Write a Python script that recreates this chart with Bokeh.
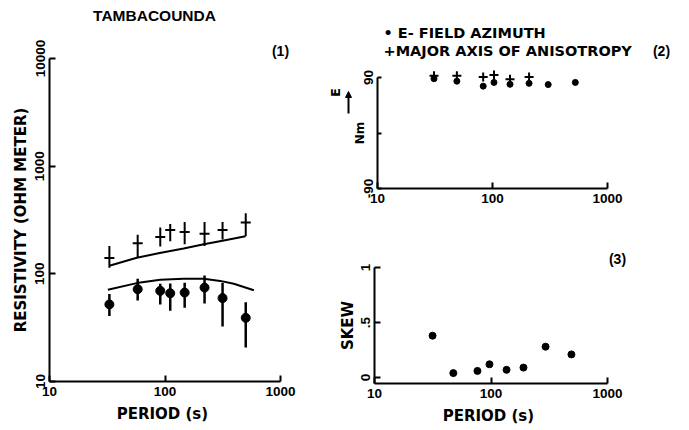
import math

from bokeh.plotting import figure
from bokeh.layouts import row, column
from bokeh.models import (FixedTicker, Label, Arrow, NormalHead, Range1d,
                          PrintfTickFormatter)
from bokeh.embed import file_html
from bokeh.resources import INLINE

# ---- (1) apparent resistivity, ohm-m, against period (s) ----
rho_period = [33, 58, 91, 111, 148, 220, 315, 500]
rho_major = [140, 192, 220, 256, 244, 236, 256, 299]
rho_major_hi = [181, 231, 270, 290, 303, 303, 303, 365]
rho_major_lo = [114, 143, 179, 201, 188, 181, 208, 223]
rho_minor = [52, 72, 69.5, 66, 67, 74.5, 59.5, 39]
rho_minor_hi = [65, 90, 81, 81.5, 82.5, 96.5, 82.5, 54.5]
rho_minor_lo = [40.5, 56.5, 52, 45.5, 48.5, 53, 32.5, 20.7]

model_major_period = [33, 57, 90, 145, 217, 323, 498]
model_major_rho = [119, 141, 156, 172, 188, 204, 223]
model_minor_period = [32, 57, 91, 145, 217, 300, 394, 588]
model_minor_rho = [71, 82, 88, 90, 90, 86, 81, 70.5]

# ---- (2) azimuths, degrees ----
azimuth_period = [31, 49, 83, 103, 142, 208, 305, 525]
e_field_azimuth = [88, 84, 76, 82, 79, 80.5, 78.5, 82]
anisotropy_period = [31, 49, 83, 103, 142, 208]
anisotropy_axis = [93, 93, 91, 94, 87, 91]

# ---- (3) skew ----
skew_period = [31.5, 47.5, 76.5, 97, 136, 190, 294, 490]
skew = [0.38, 0.04, 0.06, 0.12, 0.07, 0.09, 0.28, 0.21]

period_ticks = [10, 100, 1000]
rho_ticks = [10, 100, 1000, 10000]
azimuth_ticks = [-90, 0, 90]
skew_ticks = [0, 0.5, 1]

NUM_FONT = "Liberation Sans"
TXT_FONT = "DejaVu Sans"
INK = "black"


def pixel_map(log, v0, p0, v1, p1):
    """Map a canvas pixel position to a data value, given two anchors."""
    f = math.log10 if log else (lambda v: v)
    g = (lambda u: 10 ** u) if log else (lambda u: u)
    slope = (f(v1) - f(v0)) / (p1 - p0)
    return lambda p: g(f(v0) + (p - p0) * slope)


def style_axis(ax):
    ax.axis_line_width = 2
    ax.axis_line_color = INK
    ax.major_tick_line_width = 2
    ax.major_tick_line_color = INK
    ax.major_tick_in = 6
    ax.major_tick_out = 0
    ax.minor_tick_line_color = None
    ax.major_label_text_font = NUM_FONT
    ax.major_label_text_font_style = "bold"
    ax.major_label_text_font_size = "13.5px"
    ax.major_label_text_color = INK
    ax.major_label_standoff = 5
    ax.axis_label_text_font = TXT_FONT
    ax.axis_label_text_font_style = "bold"
    ax.axis_label_text_font_size = "15px"
    ax.axis_label_text_color = INK
    ax.axis_label_standoff = 6


class Panel:
    """A figure whose frame fills the whole canvas; the axes sit inside it."""

    def __init__(self, width, height, x_log, x_anchor, y_log, y_anchor):
        # anchors: (value, pixel) pairs; y pixels are measured from the top
        (xv0, xp0), (xv1, xp1) = x_anchor
        (yv0, yp0), (yv1, yp1) = y_anchor
        self.H = height
        self.mx = pixel_map(x_log, xv0, xp0, xv1, xp1)
        self.my = pixel_map(y_log, yv0, height - yp0, yv1, height - yp1)
        self.p = figure(
            x_axis_type="log" if x_log else "linear",
            y_axis_type="log" if y_log else "linear",
            x_range=Range1d(self.mx(0), self.mx(width)),
            y_range=Range1d(self.my(0), self.my(height)),
            frame_width=width, frame_height=height, min_border=0,
            output_backend="svg", toolbar_location=None)
        p = self.p
        p.grid.visible = False
        p.outline_line_color = None
        p.background_fill_color = "white"
        p.border_fill_color = "white"
        for ax in (p.xaxis[0], p.yaxis[0]):
            style_axis(ax)

    def xy(self, px, py):
        return self.mx(px), self.my(self.H - py)

    def text(self, px, py, s, size="14px", font=TXT_FONT, align="center",
             angle=0.0):
        x, y = self.xy(px, py)
        self.p.add_layout(Label(x=x, y=y, text=s, text_font=font,
                                text_font_style="bold", text_font_size=size,
                                text_color=INK, text_align=align,
                                text_baseline="middle", angle=angle))


# ================= panel (1) =================
P1 = Panel(300, 430, True, ((10, 49), (1000, 280)),
           True, ((10, 381), (10000, 58)))
p1 = P1.p
p1.xaxis.fixed_location = 10
p1.xaxis.bounds = (10, 1000)
p1.yaxis.fixed_location = 10
p1.yaxis.bounds = (10, 10000)
p1.xaxis.ticker = FixedTicker(ticks=period_ticks)
p1.xaxis.formatter = PrintfTickFormatter(format="%d")
p1.yaxis.ticker = FixedTicker(ticks=rho_ticks)
p1.yaxis.formatter = PrintfTickFormatter(format="%d")
p1.yaxis.major_label_orientation = "vertical"
p1.yaxis.axis_label_standoff = 3
p1.xaxis.axis_label = "PERIOD  (s)"
p1.yaxis.axis_label = "RESISTIVITY (OHM METER)"

p1.line(model_major_period, model_major_rho, line_color=INK, line_width=2)
p1.line(model_minor_period, model_minor_rho, line_color=INK, line_width=2)
p1.segment(x0=rho_period, y0=rho_major_lo, x1=rho_period, y1=rho_major_hi,
           line_color=INK, line_width=2)
p1.segment(x0=rho_period, y0=rho_minor_lo, x1=rho_period, y1=rho_minor_hi,
           line_color=INK, line_width=2.5)
p1.scatter(rho_period, rho_major, marker="dash", size=10, line_width=2,
           line_color=INK)
p1.scatter(rho_period, rho_minor, marker="circle", size=9, fill_color=INK,
           line_color=INK)

P1.text(154, 15, "TAMBACOUNDA", size="15.5px", font=NUM_FONT)
P1.text(280, 50, "(1)", size="14px", font=NUM_FONT)

# ================= panel (2) =================
P2 = Panel(389, 220, True, ((10, 77), (1000, 307)),
           False, ((-90, 188), (90, 77)))
p2 = P2.p
p2.xaxis.fixed_location = -90
p2.xaxis.bounds = (10, 1000)
p2.yaxis.fixed_location = 10
p2.yaxis.bounds = (-90, 90)
p2.xaxis.ticker = FixedTicker(ticks=period_ticks)
p2.xaxis.formatter = PrintfTickFormatter(format="%d")
p2.yaxis.ticker = FixedTicker(ticks=azimuth_ticks)
p2.yaxis.major_label_overrides = {-90: "-90", 0: "", 90: "90"}
p2.yaxis.major_label_orientation = "vertical"
p2.yaxis.major_tick_in = 4
p2.yaxis.axis_label = "Nm"
p2.yaxis.axis_label_text_font_size = "12px"
p2.yaxis.axis_label_standoff = -6

p2.scatter(anisotropy_period, anisotropy_axis, marker="cross", size=9,
           line_width=2, line_color=INK)
p2.scatter(azimuth_period, e_field_azimuth, marker="circle", size=6,
           fill_color=INK, line_color=INK)

P2.text(83, 32, "\u2022 E- FIELD  AZIMUTH", size="14.5px", align="left")
P2.text(83, 50, "+MAJOR AXIS OF ANISOTROPY", size="14.5px", align="left")
P2.text(361, 50, "(2)", font=NUM_FONT)
P2.text(35, 92, "E", size="13px", angle=math.pi / 2)
ax0, ay0 = P2.xy(48, 113)
ax1, ay1 = P2.xy(48, 91)
p2.add_layout(Arrow(end=NormalHead(size=6, fill_color=INK, line_color=INK),
                    x_start=ax0, y_start=ay0, x_end=ax1, y_end=ay1,
                    line_color=INK, line_width=2))

# ================= panel (3) =================
P3 = Panel(389, 210, True, ((10, 74), (1000, 307)),
           False, ((0, 157), (1, 47)))
p3 = P3.p
x_axis_level = P3.my(210 - 163)
p3.xaxis.fixed_location = x_axis_level
p3.xaxis.bounds = (10, 1000)
p3.yaxis.fixed_location = 10
p3.yaxis.bounds = (x_axis_level, 1)
p3.xaxis.ticker = FixedTicker(ticks=period_ticks)
p3.xaxis.formatter = PrintfTickFormatter(format="%d")
p3.yaxis.ticker = FixedTicker(ticks=skew_ticks)
p3.yaxis.major_label_overrides = {0: "0", 0.5: ".5", 1: "1"}
p3.yaxis.major_label_orientation = "vertical"
p3.yaxis.axis_label_standoff = 1
p3.xaxis.axis_label = "PERIOD  (s)"
p3.yaxis.axis_label = "SKEW"

p3.scatter(skew_period, skew, marker="circle", size=7, fill_color=INK,
           line_color=INK)

P3.text(317, 38, "(3)", font=NUM_FONT)

layout = row(p1, column(p2, p3))

with open("out.html", "w") as f:
    f.write(file_html(layout, INLINE))
